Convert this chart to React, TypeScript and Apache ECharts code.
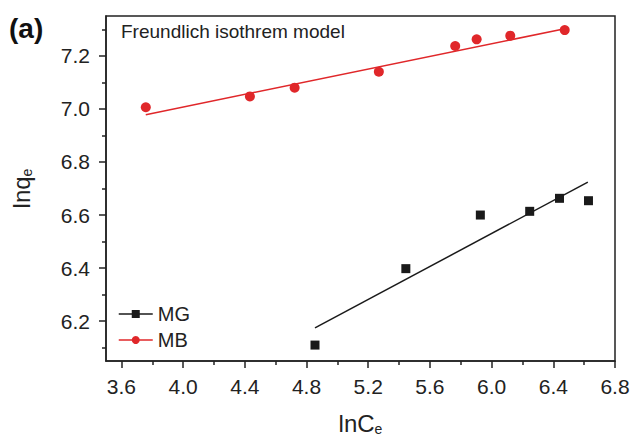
import React, { useEffect, useRef } from "react";
import * as echarts from "echarts";

const mgX = [4.855, 5.444, 5.927, 6.247, 6.44, 6.628];
const mgY = [6.11, 6.398, 6.6, 6.614, 6.663, 6.654];
const mbX = [3.758, 4.433, 4.723, 5.269, 5.764, 5.903, 6.121, 6.474];
const mbY = [7.006, 7.047, 7.08, 7.14, 7.237, 7.262, 7.276, 7.297];
const mgFitX = [4.855, 6.624];
const mgFitY = [6.175, 6.724];
const mbFitX = [3.758, 6.474];
const mbFitY = [6.978, 7.302];
const xMajor = [3.6, 4.0, 4.4, 4.8, 5.2, 5.6, 6.0, 6.4, 6.8];
const xMinor = [3.8, 4.2, 4.6, 5.0, 5.4, 5.8, 6.2, 6.6];
const yMajor = [6.2, 6.4, 6.6, 6.8, 7.0, 7.2];
const yMinor = [6.1, 6.3, 6.5, 6.7, 6.9, 7.1, 7.3];

const FONT = "Liberation Sans, Arial, sans-serif";

export default function App() {
  const ref = useRef<HTMLDivElement>(null);
  useEffect(() => {
    const chart = echarts.init(ref.current!, null, { renderer: "svg" });
    const zip = (xs: number[], ys: number[]) => xs.map((x, i) => [x, ys[i]]);
    const axisCommon = {
      type: "value",
      splitLine: { show: false },
    };
    const nameRich = {
      n: { fontSize: 24, color: "#222", fontFamily: FONT, lineHeight: 26 },
      s: { fontSize: 14, color: "#222", fontFamily: FONT, lineHeight: 26, verticalAlign: "bottom", padding: [12, 0, 0, 0] },
    };
    chart.setOption({
      animation: false,
      backgroundColor: "#fff",
      textStyle: { fontFamily: FONT },
      grid: {
        left: 106,
        top: 16,
        right: 15,
        bottom: 75,
        outerBoundsMode: "none",
        containLabel: false,
        show: true,
        borderColor: "#222",
        borderWidth: 1.5,
        backgroundColor: "transparent",
      },
      xAxis: [
        {
          ...axisCommon,
          min: 3.5,
          max: 6.8,
          name: "{n|lnC}{s|e}",
          nameLocation: "middle",
          nameGap: 49,
          nameTextStyle: { rich: nameRich },
          axisLine: { show: true, lineStyle: { color: "#222", width: 1.5 } },
          axisTick: { show: true, customValues: xMajor, length: 7, lineStyle: { color: "#222", width: 1.5 } },
          axisLabel: {
            customValues: xMajor,
            fontSize: 21,
            color: "#222",
            margin: 15,
            formatter: (v: number) => v.toFixed(1),
          },
        },
        {
          ...axisCommon,
          min: 3.5,
          max: 6.8,
          position: "bottom",
          axisLine: { show: false },
          axisTick: { show: true, customValues: xMinor, length: 4, lineStyle: { color: "#222", width: 1.5 } },
          axisLabel: { show: false },
        },
      ],
      yAxis: [
        {
          ...axisCommon,
          min: 6.05,
          max: 7.35,
          name: "{n|lnq}{s|e}",
          nameLocation: "middle",
          nameGap: 72,
          nameRotate: 90,
          nameTextStyle: { rich: nameRich },
          axisLine: { show: true, lineStyle: { color: "#222", width: 1.5 } },
          axisTick: { show: true, customValues: yMajor, length: 7, lineStyle: { color: "#222", width: 1.5 } },
          axisLabel: {
            customValues: yMajor,
            fontSize: 21,
            color: "#222",
            margin: 16,
            formatter: (v: number) => v.toFixed(1),
          },
        },
        {
          ...axisCommon,
          min: 6.05,
          max: 7.35,
          position: "left",
          axisLine: { show: false },
          axisTick: { show: true, customValues: yMinor, length: 4, lineStyle: { color: "#222", width: 1.5 } },
          axisLabel: { show: false },
        },
      ],
      legend: {
        orient: "vertical",
        left: 113,
        top: 299,
        itemWidth: 34,
        itemHeight: 10,
        itemGap: 6,
        data: ["MG", "MB"],
        textStyle: { fontSize: 20, color: "#222", fontFamily: FONT },
        lineStyle: { width: 1.5, opacity: 1 },
      },
      series: [
        {
          name: "MG",
          type: "line",
          data: zip(mgX, mgY),
          symbol: "rect",
          symbolSize: 9,
          itemStyle: { color: "#1a1a1a" },
          lineStyle: { width: 1.5, color: "#1a1a1a", opacity: 0 },
          z: 3,
        },
        {
          name: "MB",
          type: "line",
          data: zip(mbX, mbY),
          symbol: "circle",
          symbolSize: 10,
          itemStyle: { color: "#e0272a" },
          lineStyle: { width: 1.5, color: "#e0272a", opacity: 0 },
          z: 3,
        },
        {
          name: "MGfit",
          type: "line",
          data: zip(mgFitX, mgFitY),
          symbol: "none",
          lineStyle: { width: 1.5, color: "#1a1a1a" },
          z: 2,
        },
        {
          name: "MBfit",
          type: "line",
          data: zip(mbFitX, mbFitY),
          symbol: "none",
          lineStyle: { width: 1.5, color: "#e0272a" },
          z: 2,
        },
      ],
      graphic: [
        {
          type: "text",
          left: 9,
          top: 14,
          style: { text: "(a)", fontSize: 28, fontWeight: "bold", fill: "#111", fontFamily: FONT },
        },
        {
          type: "text",
          left: 121,
          top: 22,
          style: { text: "Freundlich isothrem model", fontSize: 19, fill: "#222", fontFamily: FONT },
        },
      ],
    });
    return () => chart.dispose();
  }, []);
  return <div ref={ref} style={{ width: 630, height: 436, position: "absolute", left: 0, top: 0 }} />;
}
